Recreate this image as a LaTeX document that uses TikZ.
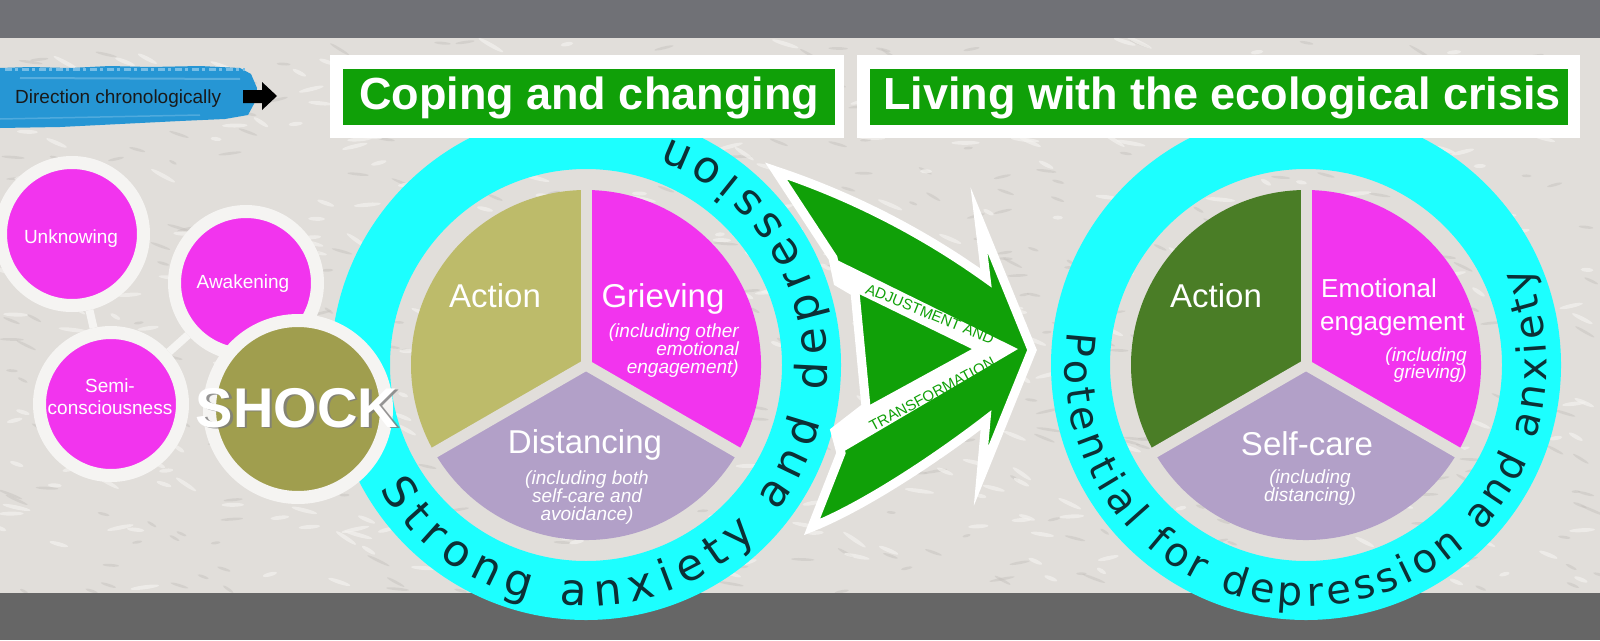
\documentclass[tikz,border=0pt]{standalone}
\usepackage{fontspec}
\setmainfont{Liberation Sans}
\newfontfamily\ringfam{DejaVu Sans}
\usetikzlibrary{calc,decorations.text}
\definecolor{wall}{RGB}{225,222,218}
\definecolor{wallshade}{RGB}{196,192,188}
\definecolor{walllight}{RGB}{243,241,238}
\definecolor{topband}{RGB}{112,113,118}
\definecolor{botband}{RGB}{102,102,102}
\definecolor{cyanR}{RGB}{28,255,255}
\definecolor{ringtxt}{RGB}{12,48,54}
\definecolor{mag}{RGB}{242,52,238}
\definecolor{olive}{RGB}{160,158,78}
\definecolor{actionL}{RGB}{189,187,106}
\definecolor{actionR}{RGB}{74,125,38}
\definecolor{lav}{RGB}{178,160,200}
\definecolor{tgreen}{RGB}{16,160,8}
\definecolor{brush}{RGB}{38,150,212}
\definecolor{brushlight}{RGB}{120,190,230}
\definecolor{ringwhite}{RGB}{245,244,242}
\definecolor{shadowgrey}{RGB}{125,125,125}
\newcommand\myfs[1]{\fontsize{#1}{#1}\selectfont}
\newcommand\ringfontL{\ringfam\fontsize{44}{44}\selectfont}
\newcommand\ringfontR{\ringfam\fontsize{40}{40}\selectfont}
\pgfdeclarelayer{back}
\pgfsetlayers{back,main}
\begin{document}
\begin{tikzpicture}[x=1pt,y=1pt,
  lbl/.style={text=white, inner sep=0, anchor=base},
  sub/.style={text=white, inner sep=0, anchor=base, font=\myfs{19}\itshape},
  stage/.style={circle, fill=mag, draw=ringwhite, line width=13, minimum size=143, inner sep=0},
  conn/.style={draw=ringwhite, line width=8},
  ringtextL/.style={decorate, decoration={text along path, text color=ringtxt, text align={fit to path}, text={|\ringfontL|#1}}},
  ringtextR/.style={decorate, decoration={text along path, text color=ringtxt, text align={fit to path}, text={|\ringfontR|#1}}},
  bandtext/.style={font=\myfs{15}, text=tgreen, inner sep=0}
]
\useasboundingbox (0,0) rectangle (1600,-640);
\begin{pgfonlayer}{back}
  \fill[wall] (0,0) rectangle (1600,-640);
  \pgfmathsetseed{42}
  \foreach \i in {1,...,500}{
    \pgfmathsetmacro\xx{rnd*1600}
    \pgfmathsetmacro\yy{-40-rnd*552}
    \pgfmathsetmacro\rr{4+rnd*9}
    \pgfmathsetmacro\aa{-35+rnd*50}
    \fill[wallshade, opacity=0.45, rotate around={\aa:(\xx,\yy)}] (\xx,\yy) ellipse[x radius=\rr, y radius=1.4];
  }
  \foreach \i in {1,...,400}{
    \pgfmathsetmacro\xx{rnd*1600}
    \pgfmathsetmacro\yy{-40-rnd*552}
    \pgfmathsetmacro\rr{5+rnd*10}
    \pgfmathsetmacro\aa{-35+rnd*50}
    \fill[walllight, opacity=0.7, rotate around={\aa:(\xx,\yy)}] (\xx,\yy) ellipse[x radius=\rr, y radius=2];
  }
\end{pgfonlayer}
\fill[topband] (0,0) rectangle (1600,-38);
\fill[botband] (0,-593) rectangle (1600,-640);

% brush stroke and direction
\fill[brush] (0,-68) -- (30,-67) -- (70,-68) -- (110,-66) -- (150,-67) -- (200,-66) -- (240,-68) -- (251,-74) -- (257,-88) -- (255,-102) -- (248,-115) -- (225,-119) -- (180,-121) -- (120,-124) -- (60,-127) -- (0,-128) -- cycle;
\draw[brushlight, line width=3, dash pattern=on 7pt off 3pt on 3pt off 4pt] (5,-69) -- (245,-69);
\draw[brushlight, line width=2, opacity=0.6] (20,-78) -- (240,-79);
\draw[brushlight, line width=1.5, opacity=0.5] (0,-119) -- (200,-115);
\node[anchor=base west, inner sep=0, font=\myfs{19}, text=black!90] (dir) at (15,-103) {Direction chronologically};
\fill[black] (243,-90) -- (262,-90) -- (262,-82) -- (277,-96) -- (262,-110) -- (262,-103) -- (243,-103) -- cycle;

% rings
\coordinate (L) at (586,-365);
\coordinate (R) at (1306,-365);
\fill[cyanR, even odd rule] (L) circle[radius=255] (L) circle[radius=196];
\fill[cyanR, even odd rule] (R) circle[radius=255] (R) circle[radius=196];

% pies
\fill[actionL] (L) -- ++(90:175) arc[start angle=90, end angle=210, radius=175] -- cycle;
\fill[mag] (L) -- ++(-30:175) arc[start angle=-30, end angle=90, radius=175] -- cycle;
\fill[lav] (L) -- ++(210:175) arc[start angle=210, end angle=330, radius=175] -- cycle;
\fill[actionR] (R) -- ++(90:175) arc[start angle=90, end angle=210, radius=175] -- cycle;
\fill[mag] (R) -- ++(-30:175) arc[start angle=-30, end angle=90, radius=175] -- cycle;
\fill[lav] (R) -- ++(210:175) arc[start angle=210, end angle=330, radius=175] -- cycle;
\foreach \c in {L,R} \foreach \a in {90,210,330} \draw[wall, line width=11] (\c) -- ++(\a:180);

% ring texts
\path[ringtextL={Strong anxiety and depression}] ($(L)+(211:241)$) arc[start angle=211, end angle=430, radius=241];
\path[ringtextR={Potential for depression and anxiety}] ($(R)+(172:241)$) arc[start angle=172, end angle=384, radius=241];

% left pie labels
\node[lbl, font=\myfs{33}] (actL) at (495,-307) {Action};
\node[lbl, font=\myfs{33}] (griL) at (663,-307) {Grieving};
\node[sub, anchor=base east] (griL1) at (739,-337) {(including other};
\node[sub, anchor=base east] (griL2) at (739,-355) {emotional};
\node[sub, anchor=base east] (griL3) at (739,-373) {engagement)};
\node[lbl, font=\myfs{33}] (disL) at (585,-453) {Distancing};
\node[sub] (disL1) at (587,-484) {(including both};
\node[sub] (disL2) at (587,-502) {self-care and};
\node[sub] (disL3) at (587,-520) {avoidance)};

% right pie labels
\node[lbl, font=\myfs{33}] (actR) at (1216,-307) {Action};
\node[lbl, font=\myfs{26}, anchor=base west] (emoR1) at (1321,-297) {Emotional};
\node[lbl, font=\myfs{26}, anchor=base west] (emoR2) at (1320,-330) {engagement};
\node[sub, anchor=base east] (emoR3) at (1467,-361) {(including};
\node[sub, anchor=base east] (emoR4) at (1467,-378) {grieving)};
\node[lbl, font=\myfs{33}] (scR) at (1307,-455) {Self-care};
\node[sub] (scR1) at (1310,-483) {(including};
\node[sub] (scR2) at (1310,-501) {distancing)};

% green transition arrow
\fill[tgreen, draw=white, line width=9, line join=miter, miter limit=20]
  (776,-171) .. controls (860,-199) and (930,-238) .. (986,-278) -- (979,-220) -- (1032,-350) -- (981,-476) -- (986,-420)
  .. controls (930,-463) and (860,-508) .. (812,-527) -- (841,-453) -- (835,-431) -- (866,-407) -- (855,-292) -- (838,-282) -- (833,-258) -- cycle;
\fill[white] (833,-258) -- (1018,-349) -- (841,-453) -- (835,-431) -- (866,-407) -- (972,-349) -- (855,-292) -- (838,-282) -- cycle;
\node[bandtext, rotate=-22] (adj) at (930,-314) {ADJUSTMENT AND};
\node[bandtext, rotate=28] (trans) at (932,-394) {TRANSFORMATION};

% stage circles
\node[stage] (unk) at (72,-234) {};
\node[stage] (awa) at (246,-283) {};
\node[stage] (semi) at (111,-404) {};
\begin{pgfonlayer}{back}
  \draw[conn] (unk) -- (semi);
  \draw[conn] (semi) -- (awa);
\end{pgfonlayer}
\node[lbl, font=\myfs{19}] (tunk) at (71,-243) {Unknowing};
\node[lbl, font=\myfs{19}] (tawa) at (243,-288) {Awakening};
\node[lbl, font=\myfs{19}] (tsemi1) at (110,-392) {Semi-};
\node[lbl, font=\myfs{19}] (tsemi2) at (110,-414) {consciousness};

\node[circle, fill=olive, draw=ringwhite, line width=13, minimum size=177, inner sep=0] (shock) at (298,-409) {};
\node[lbl, font=\myfs{56}\bfseries, text=shadowgrey, opacity=0.8] (tshocksh) at (299.5,-428.5) {SHOCK};
\node[lbl, font=\myfs{56}\bfseries] (tshock) at (297,-427) {SHOCK};

% titles
\node[fill=white, minimum width=514, minimum height=83, inner sep=0] (box1) at (587,-96.5) {};
\node[fill=tgreen, minimum width=492, minimum height=56, inner sep=0] (bar1) at (589,-97) {};
\node[lbl, font=\myfs{45}\bfseries] (t1) at (589,-109) {Coping and changing};
\node[fill=white, minimum width=723, minimum height=83, inner sep=0] (box2) at (1218.5,-96.5) {};
\node[fill=tgreen, minimum width=698, minimum height=56, inner sep=0] (bar2) at (1219,-97) {};
\node[lbl, font=\myfs{45}\bfseries] (t2) at (1222,-109) {Living with the ecological crisis};
\end{tikzpicture}
\end{document}
